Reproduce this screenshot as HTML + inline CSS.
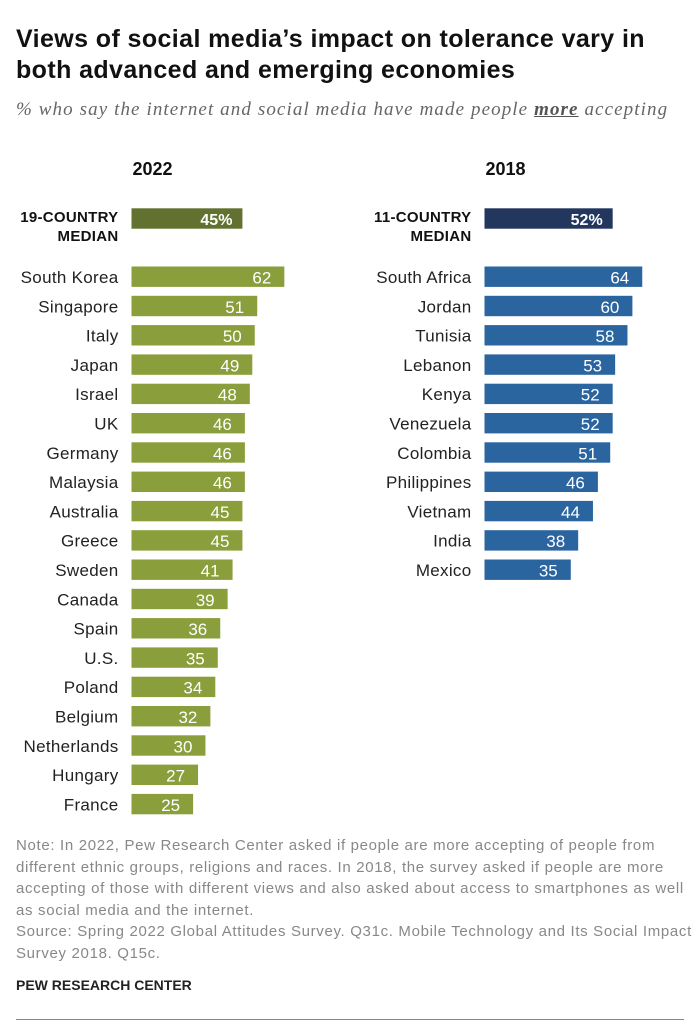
<!DOCTYPE html>
<html><head><meta charset="utf-8"><style>
body{margin:0;background:#fff;width:700px;height:1023px;overflow:hidden;font-family:"Liberation Sans",sans-serif;position:relative}
.t{position:absolute;white-space:nowrap}
</style></head><body>
<div class="t" style="left:16px;top:24px;font-size:25px;font-weight:bold;line-height:31px;color:#111;letter-spacing:0.4px">Views of social media’s impact on tolerance vary in<br>both advanced and emerging economies</div>
<div class="t" style="left:16px;top:99px;font-size:19px;font-style:italic;color:#666;letter-spacing:1.1px;font-family:'Liberation Serif',serif">% who say the internet and social media have made people <b style="text-decoration:underline;color:#555">more</b> accepting</div>
<svg id="c" width="700" height="830" style="position:absolute;left:0;top:0"></svg>
<div class="t" style="left:16px;top:835px;font-size:15px;line-height:21.5px;color:#888;letter-spacing:0.67px">Note: In 2022, Pew Research Center asked if people are more accepting of people from<br>different ethnic groups, religions and races. In 2018, the survey asked if people are more<br>accepting of those with different views and also asked about access to smartphones as well<br>as social media and the internet.<br>Source: Spring 2022 Global Attitudes Survey. Q31c. Mobile Technology and Its Social Impact<br>Survey 2018. Q15c.</div>
<div class="t" style="left:16px;top:977px;font-size:14px;font-weight:bold;color:#222">PEW RESEARCH CENTER</div>
<div style="position:absolute;left:16px;top:1019px;width:668px;height:1px;background:#888"></div>
<script>
const cats22=["South Korea","Singapore","Italy","Japan","Israel","UK","Germany","Malaysia","Australia","Greece","Sweden","Canada","Spain","U.S.","Poland","Belgium","Netherlands","Hungary","France"];
const vals22=[62,51,50,49,48,46,46,46,45,45,41,39,36,35,34,32,30,27,25];
const median22=45;
const cats18=["South Africa","Jordan","Tunisia","Lebanon","Kenya","Venezuela","Colombia","Philippines","Vietnam","India","Mexico"];
const vals18=[64,60,58,53,52,52,51,46,44,38,35];
const median18=52;
const svg=document.getElementById('c');
const NS='http://www.w3.org/2000/svg';
const k=2.465;
function rowY(i){return 266.5+i*29.3;}
function el(tag,a,txt){const e=document.createElementNS(NS,tag);for(const q in a)e.setAttribute(q,a[q]);if(txt!=null)e.textContent=txt;svg.appendChild(e);return e;}
function panel(x0,year,cats,vals,med,medLab,c1,c2,key){
  let e=el('text',{x:x0+21,y:175,'font-size':18,'font-weight':'bold','text-anchor':'middle',fill:'#111'},year);
  
  
  e=el('text',{x:x0-13,y:222,'font-size':15,'font-weight':'bold','text-anchor':'end',fill:'#111','letter-spacing':0.3},medLab);
  
  
  e=el('text',{x:x0-13,y:241,'font-size':15,'font-weight':'bold','text-anchor':'end',fill:'#111','letter-spacing':0.3},'MEDIAN');
  
  
  e=el('rect',{x:x0,y:208.3,width:med*k,height:20.4,fill:c2});
  
  
  e=el('text',{x:x0+med*k-10,y:225,'font-size':16,'font-weight':'bold','text-anchor':'end',fill:'#fff'},med+'%');
  
  
  cats.forEach((c,i)=>{
    const y=rowY(i);
    let t=el('text',{x:x0-13,y:y+16.5,'font-size':17,'text-anchor':'end',fill:'#222','letter-spacing':0.3},c);
    
    
    let r=el('rect',{x:x0,y:y,width:vals[i]*k,height:20.4,fill:c1});
    
    
    let v=el('text',{x:x0+vals[i]*k-13,y:y+17,'font-size':17,'text-anchor':'end',fill:'#fff'},vals[i]);
    
    
  });
}
panel(131.5,'2022',cats22,vals22,median22,'19-COUNTRY','#8a9e3b','#627130','2022');
panel(484.5,'2018',cats18,vals18,median18,'11-COUNTRY','#2b65a0','#22365e','2018');
</script>
</body></html>
